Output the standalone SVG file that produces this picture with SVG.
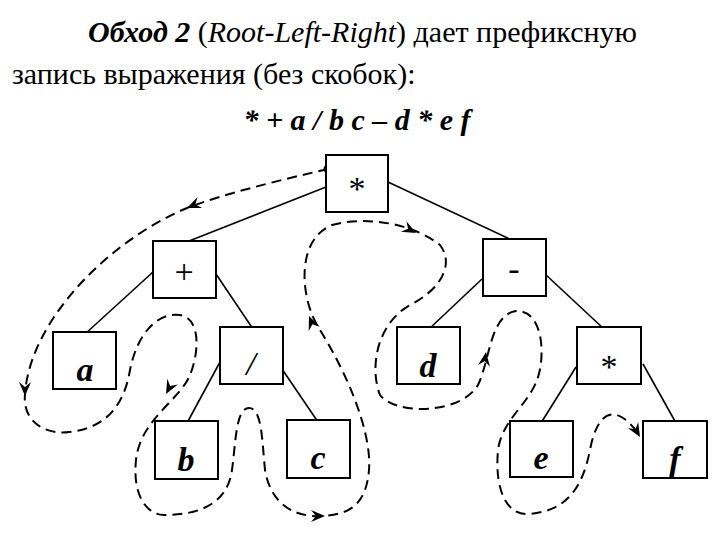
<svg xmlns="http://www.w3.org/2000/svg" width="720" height="540" viewBox="0 0 720 540">
<style>
.t{font-family:"Liberation Serif","Times New Roman","DejaVu Serif",serif;font-size:30px;fill:#000}
.box{fill:#fff;stroke:#000;stroke-width:2}
.lbl{font-family:"Liberation Serif","Times New Roman","DejaVu Serif",serif;font-size:34px;text-anchor:middle;fill:#000}
.bi{font-weight:bold;font-style:italic}
.edge{stroke:#000;stroke-width:1.6;fill:none}
.dash{stroke:#000;stroke-width:2;fill:none;stroke-dasharray:10,6}
</style>
<defs><path id="ah" d="M0,0 L-14,-6 L-9,0 L-14,6 Z" fill="#000"/></defs>
<rect width="720" height="540" fill="#fff"/>
<text class="t" x="88" y="42"><tspan class="bi">Обход 2</tspan> (<tspan font-style="italic">Root-Left-Right</tspan>) дает префиксную</text>
<text class="t" x="12" y="84">запись выражения (без скобок):</text>
<text class="t bi" x="357" y="130" font-size="32" text-anchor="middle">* + a / b c – d * e f</text>
<g id="connectors">
<line class="edge" x1="326" y1="187" x2="184" y2="243"/>
<line class="edge" x1="388" y1="182" x2="514" y2="241"/>
<line class="edge" x1="153" y1="272" x2="85" y2="334"/>
<line class="edge" x1="216" y1="274" x2="253" y2="329"/>
<line class="edge" x1="220" y1="362" x2="187" y2="423"/>
<line class="edge" x1="282" y1="369" x2="318" y2="422"/>
<line class="edge" x1="482" y1="279" x2="429" y2="329"/>
<line class="edge" x1="545" y1="274" x2="604" y2="329"/>
<line class="edge" x1="576" y1="367" x2="541" y2="423"/>
<line class="edge" x1="643" y1="364" x2="676" y2="423"/>
<path class="dash" d="M328,169 C280,180 220,195 187,208 C110,240 30,320 25,394 C22,425 50,435 69,432 C110,428 125,400 130,370 C138,330 160,312 180,315 C200,318 200,350 190,375 C180,400 140,420 136,460 C132,500 150,515 164,515 C205,515 228,500 232,470 C236,440 236,408 249,408 C262,408 262,440 265,470 C270,500 290,518 323,516 C350,514 366,505 369,470 C372,430 345,370 320,330 C300,300 295,240 332,225 C370,215 415,225 440,245 C455,265 440,290 410,305 C375,325 370,370 380,395 C395,415 460,415 478,385 C490,360 490,315 516,311 C545,310 545,360 537,380 C528,405 502,420 498,450 C494,495 510,515 527,514 C565,512 582,490 590,450 C597,412 615,400 640,436"/>
<circle cx="328" cy="169" r="4.5" fill="#000"/>
<use href="#ah" transform="translate(187,208) rotate(157)"/>
<use href="#ah" transform="translate(25,396) rotate(90)"/>
<use href="#ah" transform="translate(166,394) rotate(118)"/>
<use href="#ah" transform="translate(325,516) rotate(0)"/>
<use href="#ah" transform="translate(309,316) rotate(-112)"/>
<use href="#ah" transform="translate(416,233) rotate(28)"/>
<use href="#ah" transform="translate(486,352) rotate(-82)"/>
<use href="#ah" transform="translate(640,437) rotate(60)"/>
</g>
<g id="n_root"><rect class="box" x="326" y="155" width="62" height="57"/><text class="lbl" x="357" y="200">*</text></g>
<g id="n_plus"><rect class="box" x="153" y="241" width="63" height="57"/><text class="lbl" x="184" y="283">+</text></g>
<g id="n_minus"><rect class="box" x="483" y="239" width="63" height="57"/><text class="lbl" x="514" y="280">-</text></g>
<g id="n_a"><rect class="box" x="53" y="332" width="63" height="57"/><text class="lbl bi" x="85" y="381">a</text></g>
<g id="n_div"><rect class="box" x="220" y="327" width="63" height="57"/><text class="lbl" font-style="italic" x="251" y="375">/</text></g>
<g id="n_d"><rect class="box" x="397" y="327" width="63" height="57"/><text class="lbl bi" x="428" y="377">d</text></g>
<g id="n_mul"><rect class="box" x="577" y="327" width="64" height="57"/><text class="lbl" x="609" y="378">*</text></g>
<g id="n_b"><rect class="box" x="155" y="421" width="63" height="58"/><text class="lbl bi" x="186" y="471">b</text></g>
<g id="n_c"><rect class="box" x="287" y="420" width="63" height="58"/><text class="lbl bi" x="318" y="469">c</text></g>
<g id="n_e"><rect class="box" x="510" y="421" width="63" height="56"/><text class="lbl bi" x="541" y="469">e</text></g>
<g id="n_f"><rect class="box" x="643" y="421" width="64" height="57"/><text class="lbl bi" x="675" y="470">f</text></g>
</svg>
